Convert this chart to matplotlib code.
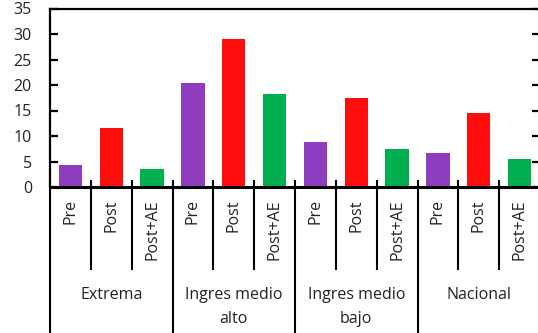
import matplotlib
matplotlib.use("Agg")
import matplotlib.pyplot as plt
from matplotlib.lines import Line2D
from matplotlib.transforms import blended_transform_factory

# Poverty rates by region and scenario
groups = ["Extrema", "Ingres medio\nalto", "Ingres medio\nbajo", "Nacional"]
scenarios = ["Pre", "Post", "Post+AE"]
pre = [4.3, 20.4, 8.8, 6.6]
post = [11.5, 29.1, 17.4, 14.5]
post_ae = [3.5, 18.2, 7.4, 5.5]
colors = ["#8F3DBF", "#FF0D0D", "#00B050"]
yticks = [0, 5, 10, 15, 20, 25, 30, 35]

plt.rcParams["font.family"] = ["Open Sans", "DejaVu Sans"]
FS = 11.5
W, H = 538, 333
fig = plt.figure(figsize=(W / 100, H / 100), dpi=100)
ax = fig.add_axes([50 / W, 1 - 187 / H, 490 / W, (187 - 8.5) / H])

series = [pre, post, post_ae]
n_s = len(scenarios)
for g in range(len(groups)):
    for s in range(n_s):
        ax.bar(g * n_s + s, series[s][g], width=0.57, color=colors[s], zorder=2)

n = len(groups) * n_s
ax.set_xlim(-0.5, n - 0.5)
ax.set_ylim(0, 35)
ax.set_yticks(yticks)
ax.set_yticklabels([str(v) for v in yticks], fontsize=FS, color="#222222")
ax.set_xticks([])
ax.tick_params(axis="y", which="both", direction="in", length=6, width=1.6,
               left=True, right=True, pad=13)
for side in ["left", "right", "top"]:
    ax.spines[side].set_linewidth(1.6)
ax.spines["bottom"].set_linewidth(2.2)
for sp in ax.spines.values():
    sp.set_color("black")

tr = blended_transform_factory(ax.transData, fig.transFigure)
y_top = 1 - 181 / H
y_small = 1 - 269 / H
for k in range(n + 1):
    x = k - 0.5
    y_end = 0 if k % n_s == 0 else y_small
    ax.add_line(Line2D([x, x], [y_top, y_end], transform=tr, color="black",
                       lw=1.5, clip_on=False, zorder=3))

for g in range(len(groups)):
    for s in range(n_s):
        ax.text(g * n_s + s, 1 - 199 / H, scenarios[s], transform=tr,
                rotation=90, ha="center", va="top", fontsize=FS, color="#222222")
    for li, line in enumerate(groups[g].split("\n")):
        ax.text(g * n_s + 1, 1 - (295 + 24 * li) / H, line, transform=tr,
                ha="center", va="center", fontsize=FS, color="#222222")

fig.savefig("out.png", dpi=100)
